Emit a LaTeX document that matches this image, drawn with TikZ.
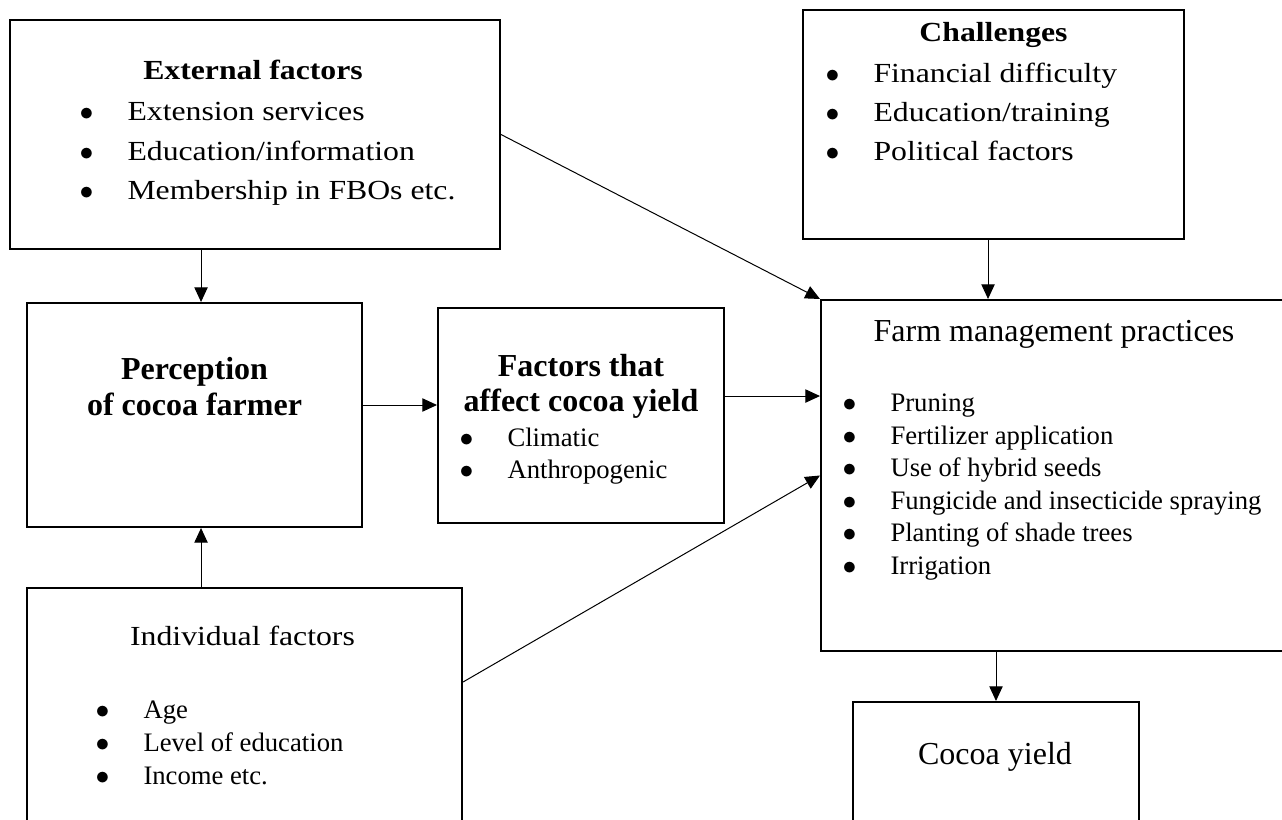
\documentclass[tikz,border=0pt]{standalone}
\usepackage{fontspec}
\setmainfont{Liberation Serif}
\newfontfamily\widefont{Liberation Serif}[FakeStretch=1.15]
\usetikzlibrary{arrows.meta,fit}

\newcommand{\bul}{\makebox[36pt][l]{$\bullet$}}

\tikzset{every picture/.style={line width=0.75pt}}
\tikzset{
  box/.style={draw, line width=1.5pt, inner sep=0pt},
  conn/.style={-{Triangle[length=11pt,width=10pt]}},
  ttl/.style={inner sep=0pt, anchor=base},
  lst/.style={inner sep=0pt, anchor=base west}
}

\begin{document}
\begin{tikzpicture}[x=0.75pt,y=0.75pt,yscale=-1,xscale=1]
			\useasboundingbox (0,0) rectangle (1282,820);
			
			%Shape: Rectangle [external factors]
			\node [box, fit={(10,20) (500,249)}] (ext) {};
			%Shape: Rectangle [challenges]
			\node [box, fit={(803,10) (1184,239)}] (chal) {};
			%Shape: Rectangle [perception]
			\node [box, fit={(27,303) (362,527)}] (perc) {};
			%Shape: Rectangle [factors of yield]
			\node [box, fit={(438,308) (724,523)}] (fac) {};
			%Shape: Rectangle [farm management]
			\node [box, fit={(821,300) (1287,651)}] (farm) {};
			%Shape: Rectangle [individual factors]
			\node [box, fit={(27,588) (462,835)}] (ind) {};
			%Shape: Rectangle [cocoa yield]
			\node [box, fit={(853,702) (1139,835)}] (coc) {};
			
			%Straight Lines
			\draw [conn] ([xshift=4.9pt]perc.north |- ext.south) -- ([xshift=4.9pt]perc.north) ;
			%Straight Lines
			\draw [conn] ([xshift=4.9pt]perc.south |- ind.north) -- ([xshift=4.9pt]perc.south) ;
			%Straight Lines
			\draw [conn] ([yshift=-7.5pt]perc.east) -- ([yshift=-7.5pt]perc.east -| fac.west) ;
			%Straight Lines
			\draw [conn] ([yshift=-14.6pt]fac.east) -- ([yshift=-14.6pt]fac.east -| farm.west) ;
			%Straight Lines
			\draw [conn] (ext.east) -- (farm.north west) ;
			%Straight Lines
			\draw [conn] ([xshift=-4.1pt]chal.south) -- ([xshift=-4.1pt]chal.south |- farm.north) ;
			%Straight Lines
			\draw [conn] ([yshift=-22.1pt]ind.east) -- (farm.west) ;
			%Straight Lines
			\draw [conn] (coc.north |- farm.south) -- (coc.north) ;
			
			% Text Node
			\node [ttl, font=\widefont\fontsize{20.7}{24}\selectfont\bfseries] (extT) at (253,80) {External factors};
			% Text Node
			\node [lst, font=\widefont\fontsize{20.7}{29.6}\selectfont] (extL) at (79,121) {\begin{tabular}[t]{@{}l@{}}\bul Extension services\\ \bul Education/information\\ \bul Membership in FBOs etc.\end{tabular}};
			% Text Node
			\node [ttl, font=\widefont\fontsize{20.7}{24}\selectfont\bfseries] (chalT) at (993.5,42) {Challenges};
			% Text Node
			\node [lst, font=\widefont\fontsize{20.7}{28.9}\selectfont] (chalL) at (825,83) {\begin{tabular}[t]{@{}l@{}}\bul Financial difficulty\\ \bul Education/training\\ \bul Political factors\end{tabular}};
			% Text Node
			\node [ttl, font=\fontsize{24}{27}\selectfont\bfseries] (percT) at (194.5,379) {\begin{tabular}[t]{@{}c@{}}Perception\\ of cocoa farmer\end{tabular}};
			% Text Node
			\node [ttl, font=\fontsize{24}{26.3}\selectfont\bfseries] (facT) at (581,376.7) {\begin{tabular}[t]{@{}c@{}}Factors that\\ affect cocoa yield\end{tabular}};
			% Text Node
			\node [lst, font=\fontsize{20}{24}\selectfont] (facL) at (459,446) {\begin{tabular}[t]{@{}l@{}}\bul Climatic\\ \bul Anthropogenic\end{tabular}};
			% Text Node
			\node [ttl, font=\fontsize{24}{27}\selectfont] (farmT) at (1054,341) {Farm management practices};
			% Text Node
			\node [lst, font=\fontsize{20}{24.4}\selectfont] (farmL) at (842,411.7) {\begin{tabular}[t]{@{}l@{}}\bul Pruning\\ \bul Fertilizer application\\ \bul Use of hybrid seeds\\ \bul Fungicide and insecticide spraying\\ \bul Planting of shade trees\\ \bul Irrigation\end{tabular}};
			% Text Node
			\node [ttl, font=\widefont\fontsize{20.7}{24}\selectfont] (indT) at (242.5,645) {Individual factors};
			% Text Node
			\node [lst, font=\fontsize{20}{25.1}\selectfont] (indL) at (95,718) {\begin{tabular}[t]{@{}l@{}}\bul Age\\ \bul Level of education\\ \bul Income etc.\end{tabular}};
			% Text Node
			\node [ttl, font=\fontsize{24}{27}\selectfont] (cocT) at (995,764) {Cocoa yield};
\end{tikzpicture}
\end{document}
